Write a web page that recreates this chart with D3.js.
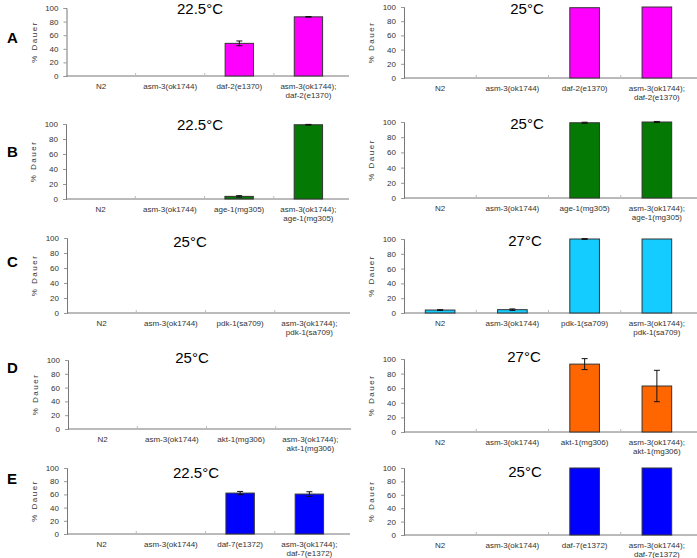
<!DOCTYPE html>
<html>
<head>
<meta charset="utf-8">
<script src="https://cdn.jsdelivr.net/npm/d3@7"></script>
<style>
  body { margin: 0; background: #fff; }
  svg { display: block; font-family: "Liberation Sans", Arial, sans-serif; }
</style>
</head>
<body>
<svg id="chart" width="697" height="558"></svg>
<script>
// ---- data ----
var rowLetters = ["A", "B", "C", "D", "E"];
var mutants = ["daf-2(e1370)", "age-1(mg305)", "pdk-1(sa709)", "akt-1(mg306)", "daf-7(e1372)"];
var leftTemps = ["22.5°C", "22.5°C", "25°C", "25°C", "22.5°C"];
var rightTemps = ["25°C", "25°C", "27°C", "27°C", "25°C"];
var yTicks = [0, 20, 40, 60, 80, 100];

// % dauer per row: [N2, asm-3, mutant, asm-3;mutant]
var leftValues = [
  [0, 0, 48, 87],
  [0, 0, 3.5, 99],
  [0, 0, 0, 0],
  [0, 0, 0, 0],
  [0, 0, 62, 60.5]
];
var leftErrors = [
  [0, 0, 3.5, 0.5],
  [0, 0, 1, 0.5],
  [0, 0, 0, 0],
  [0, 0, 0, 0],
  [0, 0, 2.5, 3.5]
];
var rightValues = [
  [0, 0, 99, 100],
  [0, 0, 99, 100],
  [4, 4.5, 100, 100],
  [0, 0, 93, 63],
  [0, 0, 100, 100]
];
var rightErrors = [
  [0, 0, 0, 0],
  [0, 0, 0.7, 0.7],
  [0.5, 1, 0.5, 0],
  [0, 0, 7.5, 21.5],
  [0, 0, 0, 0]
];

// ---- layout / styles ----
var rowColors = ["#ff00ff", "#047a04", "#14ccff", "#ff6600", "#0000ff"];
var letterY = [43, 157, 267, 373, 484];
// x0, x1 of category axis, y of 100 and 0, title centre x and baseline
var leftGeom = [
  {x0: 66.5, x1: 343, top: 8, bot: 76, tx: 200, ty: 14},
  {x0: 66, x1: 343, top: 124, bot: 199, tx: 200, ty: 130},
  {x0: 67, x1: 344, top: 238, bot: 313, tx: 190, ty: 247},
  {x0: 68, x1: 345, top: 360, bot: 429, tx: 192, ty: 363},
  {x0: 67, x1: 344, top: 468, bot: 534, tx: 196, ty: 478}
];
var rightGeom = [
  {x0: 404, x1: 693, top: 7, bot: 78, tx: 527, ty: 14},
  {x0: 404, x1: 693, top: 122, bot: 198, tx: 527, ty: 129},
  {x0: 404, x1: 693, top: 239, bot: 313, tx: 525, ty: 246},
  {x0: 404, x1: 693, top: 359, bot: 432, tx: 524, ty: 362},
  {x0: 404, x1: 693, top: 468, bot: 535, tx: 525, ty: 477}
];

var svg = d3.select("#chart");

function categoriesFor(i) {
  return ["N2", "asm-3(ok1744)", mutants[i], "asm-3(ok1744);|" + mutants[i]];
}

function drawPanel(g, values, errors, cats, temp, color) {
  var x = d3.scaleBand().domain(cats).range([g.x0, g.x1]).padding(0);
  var y = d3.scaleLinear().domain([0, 100]).range([g.bot, g.top]);
  var bw = x.bandwidth() * 0.41;
  var p = svg.append("g");

  // y axis
  var yAxis = d3.axisLeft(y).tickValues(yTicks).tickSize(3).tickPadding(5);
  var ya = p.append("g").attr("transform", "translate(" + g.x0 + ",0)").call(yAxis);
  ya.select(".domain").attr("stroke", "#777");
  ya.selectAll(".tick line").attr("stroke", "#999");
  ya.selectAll(".tick text").attr("font-size", 8).attr("fill", "#333")
    .attr("font-family", "Liberation Sans, Arial, sans-serif");

  // x axis line + separators between categories
  p.append("line").attr("x1", g.x0).attr("x2", g.x1 + 6)
    .attr("y1", g.bot).attr("y2", g.bot).attr("stroke", "#777");
  p.selectAll("line.sep").data(cats.slice(1)).enter().append("line")
    .attr("class", "sep")
    .attr("x1", function(d) { return x(d); }).attr("x2", function(d) { return x(d); })
    .attr("y1", g.bot).attr("y2", g.bot - 3).attr("stroke", "#bbb");

  // bars
  var data = cats.map(function(c, k) { return {c: c, v: values[k], e: errors[k]}; });
  p.selectAll("rect").data(data.filter(function(d) { return d.v > 0; })).enter().append("rect")
    .attr("x", function(d) { return x(d.c) + (x.bandwidth() - bw) / 2; })
    .attr("y", function(d) { return y(d.v); })
    .attr("width", bw)
    .attr("height", function(d) { return y(0) - y(d.v); })
    .attr("fill", color).attr("stroke", "#333").attr("stroke-width", 1);

  // error bars
  var eb = p.selectAll("g.err").data(data.filter(function(d) { return d.e > 0; })).enter()
    .append("g").attr("class", "err")
    .attr("transform", function(d) { return "translate(" + (x(d.c) + x.bandwidth() / 2) + ",0)"; });
  eb.append("line").attr("y1", function(d) { return y(d.v + d.e); })
    .attr("y2", function(d) { return y(d.v - d.e); }).attr("stroke", "#111");
  eb.append("line").attr("x1", -3).attr("x2", 3)
    .attr("y1", function(d) { return y(d.v + d.e); }).attr("y2", function(d) { return y(d.v + d.e); })
    .attr("stroke", "#111");
  eb.append("line").attr("x1", -3).attr("x2", 3)
    .attr("y1", function(d) { return y(d.v - d.e); }).attr("y2", function(d) { return y(d.v - d.e); })
    .attr("stroke", "#111");

  // category labels
  var lab = p.selectAll("text.cat").data(cats).enter().append("text")
    .attr("class", "cat")
    .attr("text-anchor", "middle")
    .attr("font-size", 8).attr("fill", "#333")
    .attr("transform", function(d) { return "translate(" + (x(d) + x.bandwidth() / 2) + "," + (g.bot + 13) + ")"; });
  lab.selectAll("tspan").data(function(d) { return d.split("|"); }).enter().append("tspan")
    .attr("x", 0).attr("dy", function(d, k) { return k === 0 ? 0 : 8.5; })
    .text(function(d) { return d; });

  // y label
  p.append("text")
    .attr("transform", "translate(" + (g.x0 - 30) + "," + ((g.top + g.bot) / 2) + ") rotate(-90)")
    .attr("text-anchor", "middle").attr("font-size", 8).attr("fill", "#333")
    .attr("letter-spacing", 1.5)
    .text("% Dauer");

  // temperature title
  p.append("text").attr("x", g.tx).attr("y", g.ty)
    .attr("text-anchor", "middle").attr("font-size", 15).attr("fill", "#000")
    .text(temp);
}

rowLetters.forEach(function(letter, i) {
  var cats = categoriesFor(i);
  drawPanel(leftGeom[i], leftValues[i], leftErrors[i], cats, leftTemps[i], rowColors[i]);
  drawPanel(rightGeom[i], rightValues[i], rightErrors[i], cats, rightTemps[i], rowColors[i]);
  svg.append("text").attr("x", 7).attr("y", letterY[i])
    .attr("font-size", 15).attr("font-weight", "bold").attr("fill", "#000")
    .text(letter);
});
</script>
</body>
</html>
